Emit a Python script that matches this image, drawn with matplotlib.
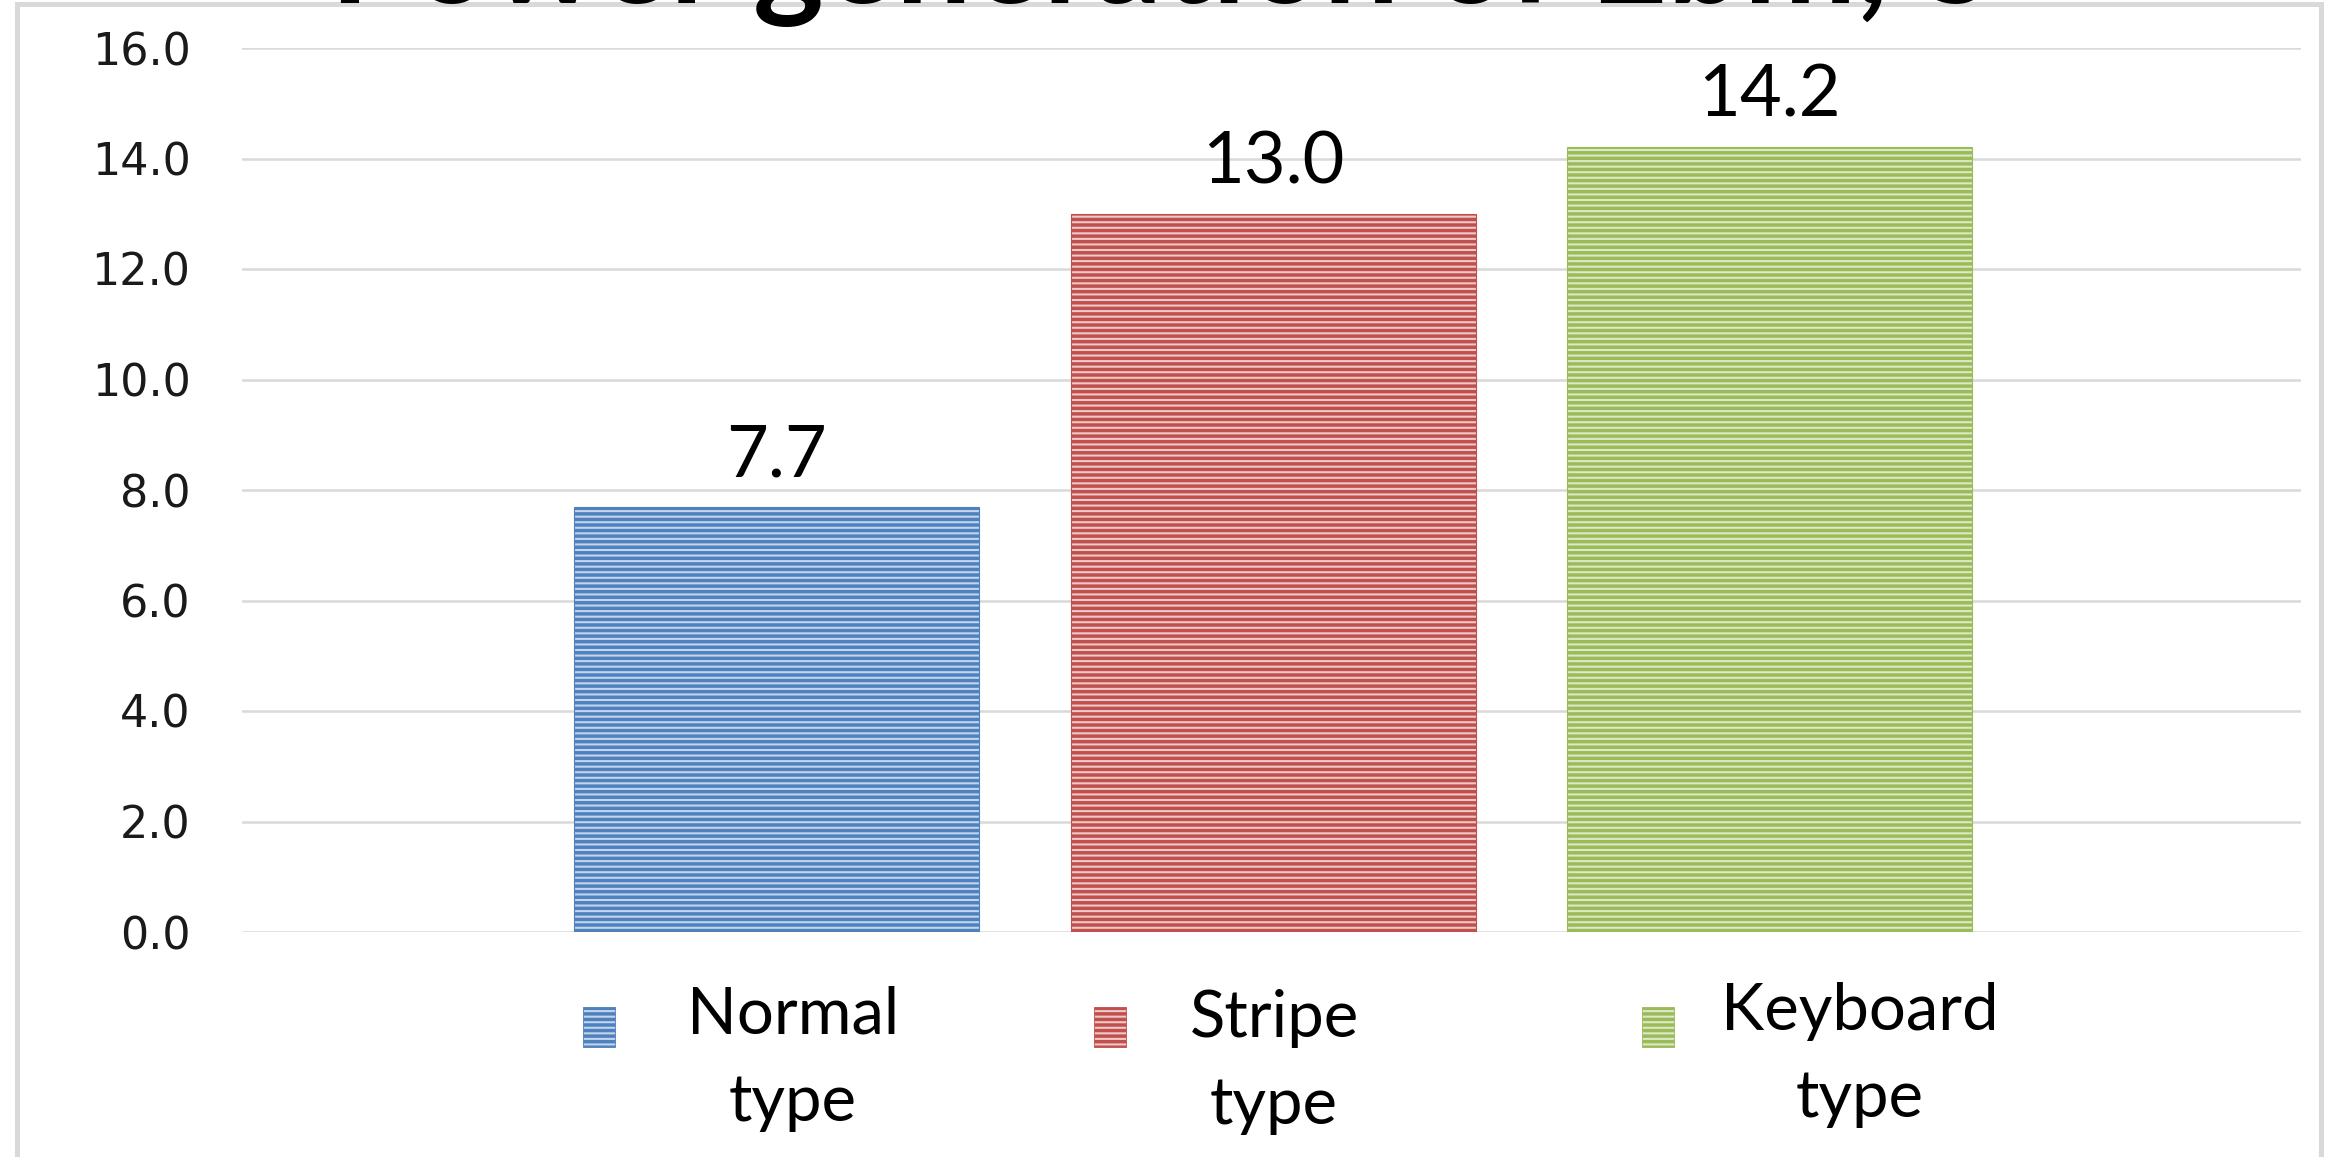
import matplotlib
matplotlib.use("Agg")
import matplotlib.pyplot as plt
from matplotlib.patches import Rectangle

# ---- data -------------------------------------------------------------
categories = ["Normal type", "Stripe type", "Keyboard type"]
values = [7.7, 13.0, 14.2]
yticks = [0, 2, 4, 6, 8, 10, 12, 14, 16]
title = "Power generation of Ebm, S"

# ---- styling ----------------------------------------------------------
dark_colors = ["#4f81bd", "#c0504d", "#9bbb59"]
light_colors = ["#c3d5ed", "#efc9c8", "#dde8c8"]
grid_color = "#d9d9d9"
label_font = "Lato"
tick_font = "DejaVu Sans"

W, H = 2331, 1157
plt.rcParams["hatch.linewidth"] = 2.5

fig = plt.figure(figsize=(W / 100, H / 100), dpi=100)
fig.patch.set_facecolor("white")


def fx(px):
    return px / W


def fy(py):
    return 1 - py / H


# plot area
ax = fig.add_axes([fx(242), fy(932), fx(2301) - fx(242), fy(48) - fy(932)])
x = list(range(len(categories)))
bars = ax.bar(x, values, width=0.816, color=light_colors,
              edgecolor=dark_colors, linewidth=0.8, hatch="---", zorder=3)

ax.set_xlim(-1.077, 3.07)
ax.set_ylim(0, 16)
ax.set_yticks(yticks)
ax.set_yticklabels([f"{t:.1f}" for t in yticks], fontfamily=tick_font,
                   fontsize=32, color="#1a1a1a")
ax.set_xticks([])
ax.tick_params(axis="y", length=0, pad=37)
for s in ax.spines.values():
    s.set_visible(False)
ax.yaxis.grid(True, color=grid_color, linewidth=1.8, zorder=0)
ax.set_axisbelow(True)
ax.patch.set_alpha(0)

# value labels above each bar
for xi, v in zip(x, values):
    ax.annotate(f"{v:.1f}", xy=(xi, v), xytext=(0, 22),
                textcoords="offset points", ha="center", va="baseline",
                fontsize=52, fontfamily=label_font, color="black")

# legend below the plot: hatched swatch plus a two-line label
marker_cx = [599, 1110, 1658]
marker_cy = 1027
marker_w, marker_h = 32, 40
text_cx = [793, 1274, 1860]
line1_base = [1034, 1037, 1030]
line_gap = 87
for i, cat in enumerate(categories):
    sw = Rectangle((fx(marker_cx[i] - marker_w / 2), fy(marker_cy + marker_h / 2)),
                   fx(marker_w), marker_h / H, transform=fig.transFigure,
                   facecolor=light_colors[i], edgecolor=dark_colors[i],
                   linewidth=0.6, hatch="---")
    fig.add_artist(sw)
    words = cat.split(" ")
    for j, w in enumerate(words):
        fig.text(fx(text_cx[i]), fy(line1_base[i] + j * line_gap), w,
                 ha="center", va="baseline", fontsize=47,
                 fontfamily=label_font, color="black")

# outer chart frame
frame = Rectangle((fx(16.5), -0.05), fx(2320.5) - fx(16.5), fy(4) + 0.05,
                  transform=fig.transFigure, fill=False,
                  edgecolor=grid_color, linewidth=3.6, zorder=5)
fig.add_artist(frame)

# title, scaled to span its width and sitting at the top edge
t = fig.text(fx(1162), fy(3), title, ha="center", va="baseline",
             fontsize=80, fontweight="bold", fontfamily=label_font,
             color="black", zorder=10)
fig.canvas.draw()
bb = t.get_window_extent(fig.canvas.get_renderer())
t.set_fontsize(80 * 1665 / bb.width)

fig.savefig("out.png", dpi=100, facecolor="white")
